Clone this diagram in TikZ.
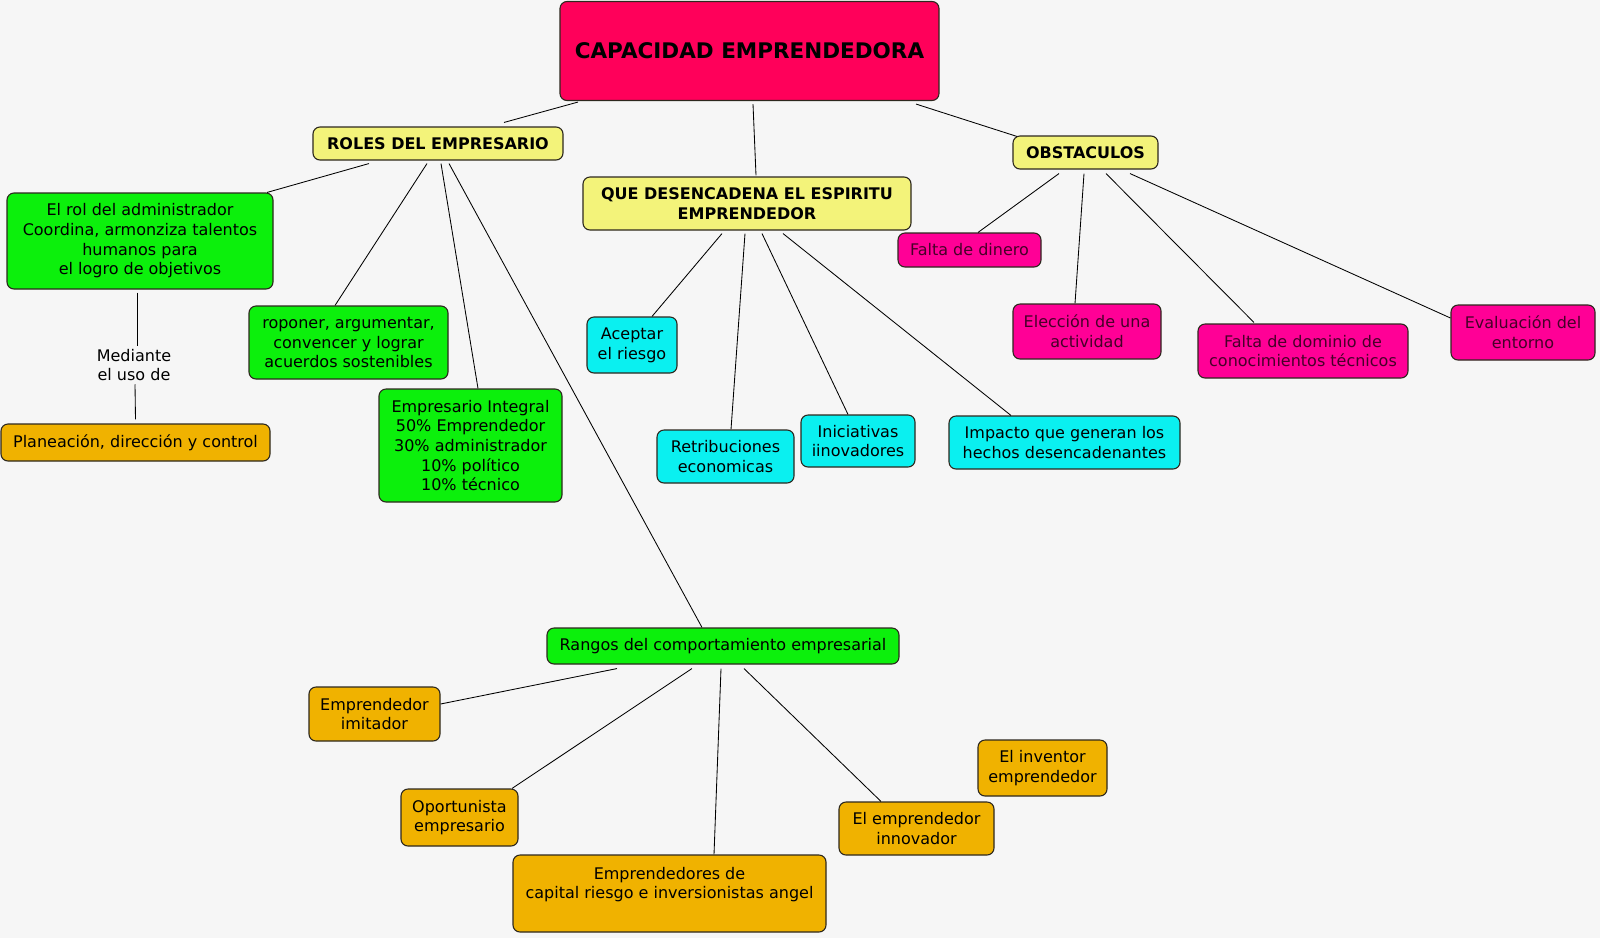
\documentclass[tikz,border=0pt]{standalone}
\usepackage{fontspec}
\setmainfont{DejaVu Sans}
\usetikzlibrary{positioning}
\definecolor{cmbg}{RGB}{246,246,246}
\definecolor{cmline}{RGB}{45,40,30}
\definecolor{cmroot}{RGB}{255,0,90}
\definecolor{cmyellow}{RGB}{243,243,122}
\definecolor{cmgreen}{RGB}{12,240,12}
\definecolor{cmcyan}{RGB}{10,240,240}
\definecolor{cmmagenta}{RGB}{255,0,150}
\definecolor{cmorange}{RGB}{240,178,0}
\definecolor{cmdark}{RGB}{70,0,40}

\begin{document}
\begin{tikzpicture}[x=1pt, y=-1pt,
      box/.style={rounded corners=7pt, draw=cmline, line width=1.1pt, align=center, inner sep=2pt,
        font=\fontsize{16}{19.7}\selectfont},
      head/.style={box, fill=cmyellow, font=\fontsize{16}{19.7}\selectfont\bfseries},
      link/.style={draw=black, line width=0.85pt}
    ]
      \fill[cmbg] (0,0) rectangle (1600,938);
      \useasboundingbox (0,0) rectangle (1600,938);

      % main concept and its three branches
      \node[box, fill=cmroot, minimum width=379pt, minimum height=99pt,
        font=\fontsize{21.5}{26}\selectfont\bfseries] (root) at (749.5,51) {CAPACIDAD EMPRENDEDORA};
      \node[head, minimum width=250pt, minimum height=33pt] (roles) at (438,143.5) {ROLES DEL EMPRESARIO};
      \node[head, minimum width=328pt, minimum height=53pt] (espiritu) at (747,203.5) {QUE DESENCADENA EL ESPIRITU\\EMPRENDEDOR};
      \node[head, minimum width=145pt, minimum height=33pt] (obstaculos) at (1085.5,152.5) {OBSTACULOS};

      % roles
      \node[box, fill=cmgreen, minimum width=266pt, minimum height=96pt] (admin) at (140,241)
        {El rol del administrador\\Coordina, armonziza talentos\\humanos para\\el logro de objetivos};
      \node[align=center, inner sep=3pt, font=\fontsize{16}{19.7}\selectfont] (mediante) at (134,365) {Mediante\\el uso de};
      \node[box, fill=cmorange, minimum width=269pt, minimum height=37pt] (planeacion) at (135.5,442.5) {Planeación, dirección y control};
      \node[box, fill=cmgreen, minimum width=199pt, minimum height=73pt] (roponer) at (348.5,342.5)
        {roponer, argumentar,\\convencer y lograr\\acuerdos sostenibles};
      \node[box, fill=cmgreen, minimum width=183pt, minimum height=113pt] (integral) at (470.5,445.5)
        {Empresario Integral\\50\% Emprendedor\\30\% administrador\\10\% político\\10\% técnico};
      \node[box, fill=cmgreen, minimum width=352pt, minimum height=36pt] (rangos) at (723,646) {Rangos del comportamiento empresarial};

      % rangos
      \node[box, fill=cmorange, minimum width=131pt, minimum height=54pt] (imitador) at (374.5,714) {Emprendedor\\imitador};
      \node[box, fill=cmorange, minimum width=117pt, minimum height=57pt] (oportunista) at (459.5,817.5) {Oportunista\\empresario};
      \node[box, fill=cmorange, minimum width=313pt, minimum height=77pt,
        label={[anchor=north, yshift=-9pt, align=center, font=\fontsize{16}{19.7}\selectfont]north:Emprendedores de\\capital riesgo e inversionistas angel}] (capital) at (669.5,893.5) {};
      \node[box, fill=cmorange, minimum width=155pt, minimum height=53pt] (innovador) at (916.5,828.5) {El emprendedor\\innovador};
      \node[box, fill=cmorange, minimum width=129pt, minimum height=56pt] (inventor) at (1042.5,768) {El inventor\\emprendedor};

      % espiritu emprendedor
      \node[box, fill=cmcyan, minimum width=90pt, minimum height=56pt] (aceptar) at (632,345) {Aceptar\\el riesgo};
      \node[box, fill=cmcyan, minimum width=137pt, minimum height=53pt] (retribuciones) at (725.5,456.5) {Retribuciones\\economicas};
      \node[box, fill=cmcyan, minimum width=114pt, minimum height=52pt] (iniciativas) at (858,441) {Iniciativas\\iinovadores};
      \node[box, fill=cmcyan, minimum width=231pt, minimum height=53pt] (impacto) at (1064.5,442.5) {Impacto que generan los\\hechos desencadenantes};

      % obstaculos
      \node[box, fill=cmmagenta, text=cmdark, minimum width=143pt, minimum height=34pt] (dinero) at (969.5,250) {Falta de dinero};
      \node[box, fill=cmmagenta, text=cmdark, minimum width=148pt, minimum height=55pt] (eleccion) at (1087,331.5) {Elección de una\\actividad};
      \node[box, fill=cmmagenta, text=cmdark, minimum width=210pt, minimum height=54pt] (dominio) at (1303,351) {Falta de dominio de\\conocimientos técnicos};
      \node[box, fill=cmmagenta, text=cmdark, minimum width=144pt, minimum height=55pt] (evaluacion) at (1523,332.5) {Evaluación del\\entorno};

      % connectors
      \draw[link] ([xshift=-171.5pt,yshift=-1pt]root.south) -- ([xshift=66pt,yshift=4pt]roles.north);
      \draw[link] ([xshift=3.5pt,yshift=-3pt]root.south) -- ([xshift=9pt,yshift=1pt]espiritu.north);
      \draw[link] ([xshift=166.5pt,yshift=-3pt]root.south) -- ([xshift=-68.5pt,yshift=-1pt]obstaculos.north);

      \draw[link] ([xshift=-69pt,yshift=-3pt]roles.south) -- ([xshift=127pt]admin.north);
      \draw[link] ([xshift=-11pt,yshift=-3pt]roles.south) -- ([xshift=-13.5pt]roponer.north);
      \draw[link] ([xshift=3pt,yshift=-3pt]roles.south) -- ([xshift=7.5pt]integral.north);
      \draw[link] ([xshift=11pt,yshift=-3pt]roles.south) -- ([xshift=-21pt]rangos.north);
      \draw[link] ([xshift=-3pt,yshift=-3pt]admin.south) -- ([xshift=3pt]mediante.north);
      \draw[link] ([xshift=1pt]mediante.south) -- ([yshift=4pt]planeacion.north);

      \draw[link] ([xshift=-25pt,yshift=-3pt]espiritu.south) -- ([xshift=20pt]aceptar.north);
      \draw[link] ([xshift=-2pt,yshift=-3pt]espiritu.south) -- ([xshift=5.5pt]retribuciones.north);
      \draw[link] ([xshift=15pt,yshift=-3pt]espiritu.south) -- ([xshift=-10pt]iniciativas.north);
      \draw[link] ([xshift=36pt,yshift=-3pt]espiritu.south) -- ([xshift=-53.5pt]impacto.north);

      \draw[link] ([xshift=-26.5pt,yshift=-4pt]obstaculos.south) -- ([xshift=8.5pt]dinero.north);
      \draw[link] ([xshift=-1.5pt,yshift=-4pt]obstaculos.south) -- ([xshift=-12pt]eleccion.north);
      \draw[link] ([xshift=20.5pt,yshift=-4pt]obstaculos.south) -- ([xshift=-49pt,yshift=1pt]dominio.north);
      \draw[link] ([xshift=44.5pt,yshift=-4pt]obstaculos.south) -- ([yshift=14.5pt]evaluacion.west);

      \draw[link] ([xshift=-106pt,yshift=-4pt]rangos.south) -- ([yshift=10pt]imitador.east);
      \draw[link] ([xshift=-31pt,yshift=-4pt]rangos.south) -- ([xshift=52.5pt]oportunista.north);
      \draw[link] ([xshift=-2pt,yshift=-4pt]rangos.south) -- ([xshift=44.5pt]capital.north);
      \draw[link] ([xshift=21pt,yshift=-4pt]rangos.south) -- ([xshift=-35.5pt]innovador.north);
    \end{tikzpicture}
\end{document}
